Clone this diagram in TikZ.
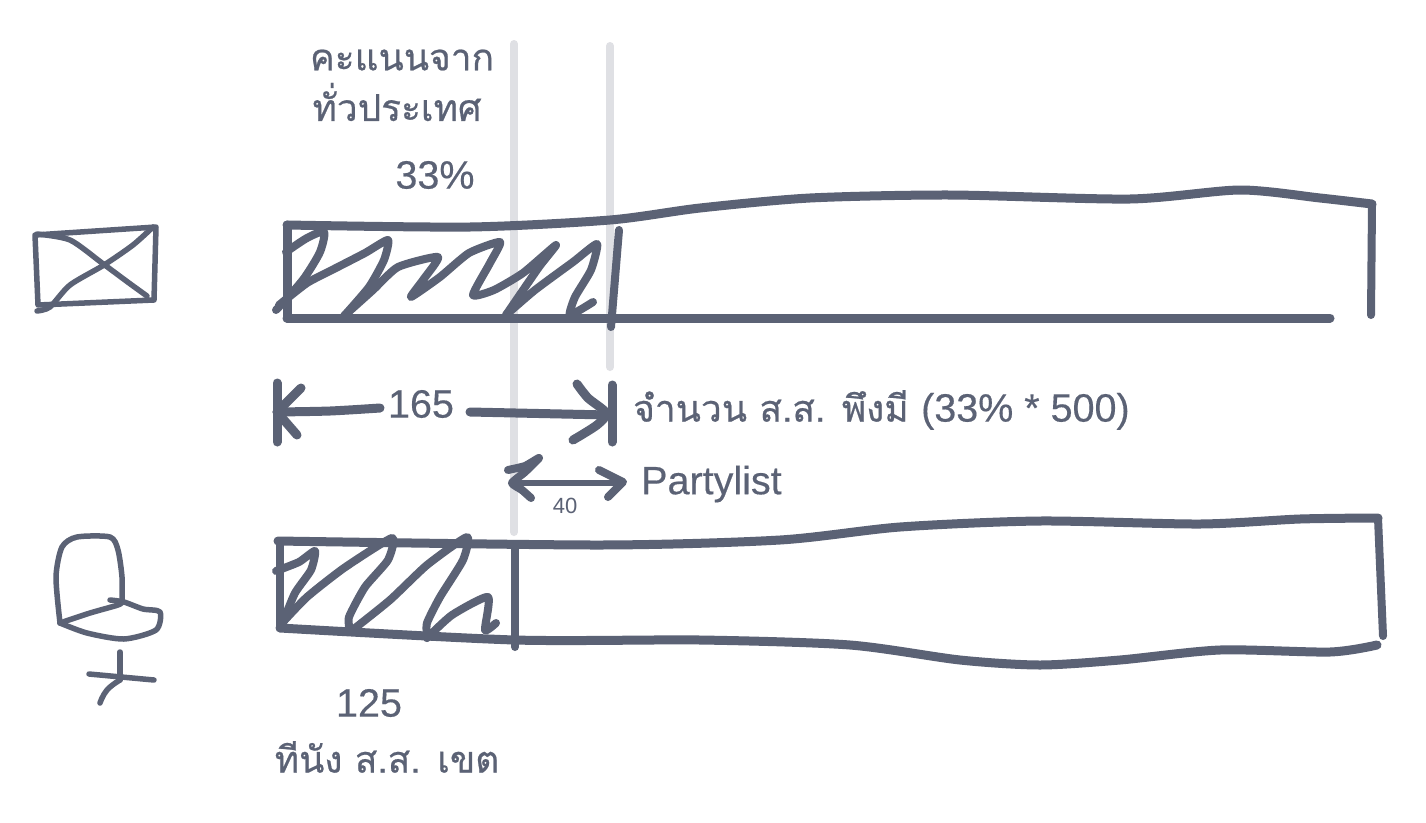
\documentclass[tikz,border=0pt]{standalone}
\usepackage{fontspec}
\setmainfont{Liberation Sans}
\newfontfamily\latfont[FakeBold=0.35]{Liberation Sans}
\newfontfamily\thaifont[Script=Thai,FakeBold=0.6]{Loma}
\definecolor{ink}{HTML}{5B6275}
\definecolor{guide}{HTML}{DFE0E4}
\tikzset{
 heavy/.style={draw=ink,line width=9pt,line cap=round,line join=round},
 medium/.style={draw=ink,line width=8pt,line cap=round,line join=round},
 light/.style={draw=ink,line width=5.5pt,line cap=round,line join=round},
 guideline/.style={draw=guide,line width=8pt,line cap=round},
 lat/.style={text=ink,inner sep=0pt,font=\latfont\fontsize{39.5}{39.5}\selectfont},
 thai/.style={text=ink,inner sep=0pt,font=\thaifont\fontsize{37}{44}\selectfont},
 sm/.style={smooth,tension=0.45}
}
\begin{document}
\begin{tikzpicture}[x=1pt,y=-1pt]
\useasboundingbox (0,0) rectangle (1426,822);
\fill[white] (0,0) rectangle (1426,822);
% guides
\coordinate (g1a) at (514,44); \coordinate (g1b) at (514,532);
\coordinate (g2a) at (610,46); \coordinate (g2b) at (610,367);
\draw[guideline] (g1a) -- (g1b);
\draw[guideline] (g2a) -- (g2b);
% envelope
\draw[light] (35,235) -- (156,227) -- (154,300) -- (38,305) -- cycle;
\draw[light] plot[sm] coordinates {(37,234) (70,240) (102,263) (129,283) (147,296)};
\draw[light] plot[sm] coordinates {(153,227) (133,245) (104,265) (70,285) (50,307) (37,311)};
% top bar
\draw[heavy] (287,318) -- (287,225);
\draw[heavy] plot[sm] coordinates {(287,225) (470,227) (610,220) (700,208) (810,198) (950,195) (1130,199) (1240,190) (1320,198) (1372,204)};
\draw[medium] (1372,204) -- (1371,315);
\draw[heavy] (287,318) -- (1330,318);
\draw[medium] (619,230) -- (611,327);
% scribble top
\draw[medium] plot[sm] coordinates {(286,252) (307,238) (324,232) (320,252) (305,277) (290,295) (276,310)};
\draw[medium] plot[smooth,tension=0.35] coordinates {(279,305) (307,283) (332,270) (365,253) (388,240) (384,260) (369,287) (344,316)};
\draw[medium] plot[smooth,tension=0.35] coordinates {(344,316) (373,290) (398,267) (438,257) (423,280) (411,297) (440,277) (469,253) (500,242) (490,263) (473,295) (494,290) (523,273) (556,245) (539,267) (506,315)};
\draw[medium] plot[smooth,tension=0.35] coordinates {(506,315) (535,290) (573,262) (597,244) (591,270) (575,297) (570,315) (593,302)};
% dimension 165
\draw[heavy] (277,383) -- (277,442);
\draw[heavy] plot[sm] coordinates {(277,412) (330,411) (380,408)};
\draw[heavy] (301,388) -- (277,412) -- (297,435);
\draw[heavy] (612,385) -- (612,442);
\draw[heavy] (470,412) -- (608,415);
\draw[heavy] plot[sm] coordinates {(577,384) (588,398) (606,413) (597,425) (573,440)};
% dimension 40
\draw[medium] plot[smooth,tension=0.3] coordinates {(508,470) (525,466) (539,458) (525,472) (512,483) (522,490) (531,498)};
\draw[light] (512,483) -- (622,483);
\draw[medium] (599,470) -- (623,482) -- (608,497);
% chair
\draw[light] plot[sm] coordinates {(60,623) (56,577) (62,547) (77,537) (110,537) (118,550) (122,577) (122,602)};
\draw[light] plot[sm] coordinates {(60,623) (90,613) (118,605) (122,602)};
\draw[light] plot[sm] coordinates {(110,600) (124,602) (143,609) (160,612) (156,630) (124,639) (87,633) (60,623)};
\draw[light] (120,652) -- (120,680);
\draw[light] plot[smooth,tension=0.8] coordinates {(120,680) (107,690) (100,703)};
\draw[light] (89,674) -- (154,680);
% bottom bar
\draw[medium] (280,541) -- (280,628);
\draw[heavy] plot[sm] coordinates {(278,541) (600,545) (780,540) (900,527) (1040,521) (1200,524) (1300,519) (1378,518)};
\draw[medium] (1378,518) -- (1383,636);
\draw[heavy] plot[sm] coordinates {(1377,645) (1330,652) (1220,650) (1120,660) (1040,665) (960,660) (850,645) (700,640) (515,640) (280,628)};
\draw[medium] (515,545) -- (515,647);
% scribble bottom
\draw[medium] plot[smooth,tension=0.35] coordinates {(276,571) (299,562) (315,551) (311,570) (295,593) (283,622)};
\draw[medium] plot[smooth,tension=0.35] coordinates {(283,622) (307,597) (344,568) (392,538) (388,560) (365,587) (349,617) (350,632)};
\draw[medium] plot[smooth,tension=0.35] coordinates {(350,632) (390,600) (427,565) (467,537) (463,560) (440,597) (427,623) (427,638)};
\draw[medium] plot[smooth,tension=0.35] coordinates {(427,638) (452,615) (488,597) (485,630) (496,623)};
% labels
\node[thai] (t1) at (402,60) {คะแนนจาก};
\node[thai] (t2) at (397,102) {ทั่วประเทศ};
\node[lat] (p33) at (435,175) {33\%};
\node[lat] (n165) at (421,404) {165};
\node[thai,anchor=west] (t3) at (633,410) {จำนวน ส.ส. พึงมี \latfont\fontsize{39.5}{44}\selectfont(33\% * 500)};
\node[lat,anchor=west] (pl) at (641,484) {Partylist};
\node[text=ink,inner sep=0pt,font=\fontsize{22}{22}\selectfont] (n40) at (565,506) {40};
\node[lat] (n125) at (369,703) {125};
\node[thai] (t4) at (387,757) {ทีนัง ส.ส. เขต};
\end{tikzpicture}
\end{document}
